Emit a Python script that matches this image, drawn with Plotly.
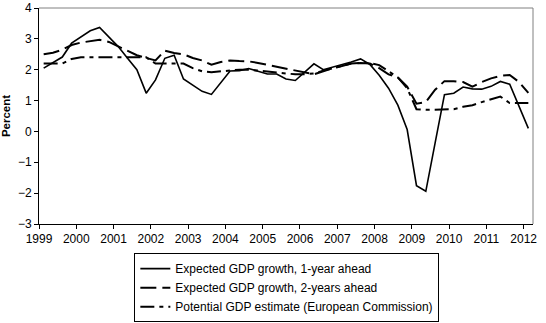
import plotly.graph_objects as go

# Quarterly observations, 1999Q1 .. 2012Q1 (53 quarters)
start_year = 1999
n_quarters = 53

expected_1y = [2.05, 2.22, 2.41, 2.86, 3.07, 3.26, 3.37, 3.05, 2.75, 2.37,
               2.00, 1.24, 1.67, 2.37, 2.47, 1.70, 1.50, 1.30, 1.20, 1.57,
               1.96, 1.97, 2.04, 1.95, 1.86, 1.86, 1.70, 1.65, 1.92, 2.19,
               2.00, 2.08, 2.15, 2.25, 2.35, 2.17, 1.82, 1.40, 0.85, 0.06,
               -1.76, -1.94, -0.37, 1.19, 1.24, 1.44, 1.38, 1.37, 1.46, 1.62,
               1.53, 0.80, 0.10]

expected_2y = [2.50, 2.55, 2.65, 2.80, 2.88, 2.93, 2.97, 2.90, 2.75, 2.62,
               2.47, 2.38, 2.30, 2.62, 2.54, 2.50, 2.38, 2.30, 2.16, 2.25,
               2.30, 2.28, 2.27, 2.22, 2.16, 2.10, 2.05, 1.97, 1.92, 1.85,
               1.95, 2.05, 2.12, 2.20, 2.22, 2.20, 2.05, 1.85, 1.75, 1.45,
               0.90, 0.95, 1.35, 1.63, 1.63, 1.60, 1.45, 1.60, 1.72, 1.80,
               1.83, 1.60, 1.25]

potential = [2.20, 2.20, 2.20, 2.35, 2.40, 2.40, 2.40, 2.40, 2.40, 2.40,
             2.40, 2.40, 2.20, 2.20, 2.20, 2.20, 2.05, 1.95, 1.92, 1.95,
             1.97, 2.00, 2.00, 1.97, 1.95, 1.92, 1.88, 1.85, 1.85, 1.88,
             1.97, 2.05, 2.12, 2.20, 2.22, 2.22, 2.15, 1.95, 1.75, 1.40,
             0.72, 0.70, 0.70, 0.70, 0.72, 0.80, 0.85, 0.95, 1.05, 1.13,
             0.92, 0.92, 0.92]

year_ticks = list(range(1999, 2013))
year_labels = [str(y) for y in year_ticks]

series_names = ["Expected GDP growth, 1-year ahead",
                "Expected GDP growth, 2-years ahead",
                "Potential GDP estimate (European Commission)"]

x = [start_year + (i + 0.5) / 4 for i in range(n_quarters)]

FONT = "Liberation Sans, Arial, sans-serif"

fig = go.Figure()
fig.add_trace(go.Scatter(x=x, y=expected_1y, mode="lines", name=series_names[0],
                         line=dict(color="black", width=1.6)))
fig.add_trace(go.Scatter(x=x, y=expected_2y, mode="lines", name=series_names[1],
                         line=dict(color="black", width=2, dash="16px,6px")))
fig.add_trace(go.Scatter(x=x, y=potential, mode="lines", name=series_names[2],
                         line=dict(color="black", width=2, dash="14px,5px,4px,5px")))

fig.update_layout(
    width=546, height=323,
    margin=dict(l=39, r=13, t=8, b=99, autoexpand=False),
    paper_bgcolor="white", plot_bgcolor="white",
    font=dict(family=FONT, size=11, color="black"),
    showlegend=True,
    legend=dict(x=0.193, y=-0.135, xanchor="left", yanchor="top",
                bordercolor="black", borderwidth=1, bgcolor="white",
                font=dict(family=FONT, size=12, color="black"),
                tracegroupgap=0, itemwidth=30),
    xaxis=dict(range=[1999, 2012.25], tickmode="array", tickvals=year_ticks,
               ticktext=year_labels, showgrid=False, zeroline=False,
               showline=True, linecolor="black", linewidth=1,
               ticks="outside", ticklen=4, tickcolor="black",
               tickfont=dict(family=FONT, size=12, color="black")),
    yaxis=dict(range=[-3, 4], dtick=1, showgrid=False, zeroline=False,
               showline=True, linecolor="black", linewidth=1,
               ticks="outside", ticklen=4, tickcolor="black",
               tickfont=dict(family=FONT, size=12, color="black"),
               title=dict(text="<b>Percent</b>", standoff=6,
                          font=dict(family=FONT, size=11.5, color="black"))),
    shapes=[
        dict(type="line", xref="paper", yref="paper", x0=0, x1=1, y0=1, y1=1,
             line=dict(color="#808080", width=1)),
        dict(type="line", xref="paper", yref="paper", x0=1, x1=1, y0=0, y1=1,
             line=dict(color="#808080", width=1)),
    ],
)

fig.write_html("out.html")
